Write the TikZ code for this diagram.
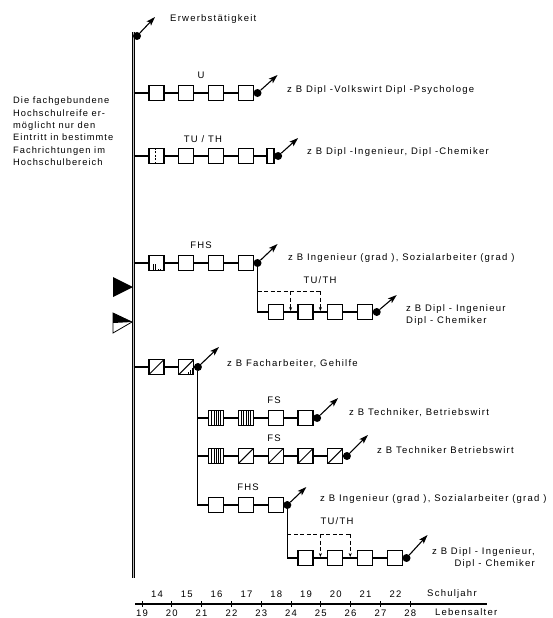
\documentclass[tikz,border=0pt]{standalone}
\usepackage{fontspec}
\setmainfont{Liberation Sans}[LetterSpace=13]
\usetikzlibrary{arrows.meta,calc}
\begin{document}
\begin{tikzpicture}[x=1pt,y=-1pt,
  font=\fontsize{9.5}{11}\selectfont,
  bx/.style={draw, line width=1.25pt, minimum width=15pt, minimum height=15pt, inner sep=0pt, fill=white},
  nbx/.style={bx, minimum width=7pt},
  dt/.style={circle, fill=black, inner sep=0pt, minimum size=8pt},
  ar/.style={line width=1.1pt, -{Stealth[length=9pt,width=6pt,inset=2pt]}},
  ln/.style={line width=1.1pt},
  dsh/.style={line width=1pt, dash pattern=on 4pt off 2.5pt},
  dar/.style={dsh, -{Stealth[length=4pt,width=3pt]}},
  txt/.style={anchor=west, inner sep=0pt, text height=6.5pt, text depth=2pt},
  lab/.style={inner sep=0pt, text height=6.5pt, text depth=0pt},
  slash/.style={path picture={\draw[line width=1pt] (path picture bounding box.south west) -- (path picture bounding box.north east);}},
  slashh/.style={path picture={\draw[line width=1pt] (path picture bounding box.south west) -- (path picture bounding box.north east);
      \foreach \d in {1.5,3.5,5.5}{\draw[line width=0.6pt] ([xshift=\d pt]path picture bounding box.south) -- ++(0,-\d-1);}}},
  vh/.style={path picture={\foreach \d in {-4.5,-2.25,0,2.25,4.5}{\draw[line width=0.7pt] ([xshift=\d pt]path picture bounding box.south) -- ([xshift=\d pt]path picture bounding box.north);}}},
  ph/.style={path picture={\foreach \d in {-3,-1}{\draw[line width=0.7pt] ([xshift=\d pt]path picture bounding box.south) -- ++(0,-7);}
      \foreach \d in {1.5,3.5}{\draw[line width=0.7pt] ([xshift=\d pt]path picture bounding box.south) -- ++(0,-2);}}},
  dv/.style={path picture={\draw[line width=0.7pt, dash pattern=on 2pt off 1.5pt] ([xshift=-1pt]path picture bounding box.south) -- ([xshift=-1pt]path picture bounding box.north);}}
]
\useasboundingbox (0,0) rectangle (552,618);

% main vertical line
\coordinate (mtop) at (133.5,32);
\coordinate (mbot) at (133.5,578);
\draw[line width=0.8pt, double=gray!50, double distance=1.4pt] (mtop) -- (mbot);

% Erwerbstaetigkeit
\node[dt] (e0) at (137,36) {};
\coordinate (e0t) at (155,17);
\draw[ar] (e0) -- (e0t);
\node[txt] (erw) at (170,19) {Erwerbstätigkeit};

% left text
\node[anchor=north west, inner sep=0pt, align=left, font=\fontsize{9.3}{12.3}\selectfont\addfontfeatures{LetterSpace=11}] (lt) at (13,97)
 {Die fachgebundene\\Hochschulreife er-\\möglicht nur den\\Eintritt in bestimmte\\Fachrichtungen im\\Hochschulbereich};

% triangles
\path[fill=black] (113,277) -- (133,287) -- (113,297) -- cycle;
\draw[line width=0.8pt, fill=white] (113,313) -- (132,322) -- (113,333) -- cycle;
\path[fill=black] (113,313) -- (132,322) -- (113,323) -- cycle;

% ---- U row
\coordinate (mU) at (133.5,93);
\node[bx] (u1) at (156.5,93) {};
\node[bx] (u2) at (186.3,93) {};
\node[bx] (u3) at (216.1,93) {};
\node[bx] (u4) at (245.9,93) {};
\draw[ln] (mU) -- (u1) -- (u2) -- (u3) -- (u4);
\node[dt] (ud) at ([xshift=3.5pt]u4.east) {};
\coordinate (udt) at ([shift={(20,-18)}]ud);
\draw[ar] (ud) -- (udt);
\node[lab] (lu) at (201,75) {U};
\node[txt] (tu) at (287,90) {z B Dipl -Volkswirt Dipl -Psychologe};

% ---- TU/TH row
\coordinate (mT) at (133.5,156);
\node[bx,dv] (t1) at (156.5,156) {};
\node[bx] (t2) at (186.3,156) {};
\node[bx] (t3) at (216.1,156) {};
\node[bx] (t4) at (245.9,156) {};
\node[nbx] (t5) at (270.5,156) {};
\draw[ln] (mT) -- (t1) -- (t2) -- (t3) -- (t4) -- (t5);
\node[dt] (td) at ([xshift=3.5pt]t5.east) {};
\coordinate (tdt) at ([shift={(20,-18)}]td);
\draw[ar] (td) -- (tdt);
\node[lab] (lt1) at (203,139) {TU / TH};
\node[txt] (tt) at (307,152) {z B Dipl -Ingenieur, Dipl -Chemiker};

% ---- FHS row
\coordinate (mF) at (133.5,263);
\node[bx,ph] (f1) at (156.5,263) {};
\node[bx] (f2) at (186.3,263) {};
\node[bx] (f3) at (216.1,263) {};
\node[bx] (f4) at (245.9,263) {};
\draw[ln] (mF) -- (f1) -- (f2) -- (f3) -- (f4);
\node[dt] (fd) at ([xshift=3.5pt]f4.east) {};
\coordinate (fdt) at ([shift={(20,-19)}]fd);
\draw[ar] (fd) -- (fdt);
\node[lab] (lf) at (201,245) {FHS};
\node[txt] (tf) at (288,258) {z B Ingenieur (grad ), Sozialarbeiter (grad )};

% ---- sub TU/TH row
\node[bx] (s1) at (275.7,312) {};
\node[bx] (s2) at (305.5,312) {};
\node[bx] (s3) at (335.3,312) {};
\node[bx] (s4) at (365.1,312) {};
\draw[ln] (fd) |- (s1);
\draw[ln] (s1) -- (s2) -- (s3) -- (s4);
\node[dt] (sd) at ([xshift=3.5pt]s4.east) {};
\coordinate (sdt) at ([shift={(20,-17)}]sd);
\draw[ar] (sd) -- (sdt);
\coordinate (j1) at (fd |- 0,291);
\coordinate (k1) at (290.6,291);
\coordinate (k2) at (320.4,291);
\coordinate (q1) at (290.6,311);
\coordinate (q2) at (320.4,311);
\draw[dsh] (j1) -- (k2);
\draw[dar] (k1) -- (q1);
\draw[dar] (k2) -- (q2);
\node[lab] (ls) at (320,280) {TU/TH};
\node[anchor=north west, inner sep=0pt, align=left, font=\fontsize{9.5}{12}\selectfont] (ts) at (406,304) {z B Dipl - Ingenieur\\Dipl - Chemiker};

% ---- Facharbeiter row
\coordinate (mA) at (133.5,367);
\node[bx,slash] (a1) at (156.5,367) {};
\node[bx,slashh] (a2) at (186.3,367) {};
\draw[ln] (mA) -- (a1) -- (a2);
\node[dt] (ad) at ([xshift=3.5pt]a2.east) {};
\coordinate (adt) at ([shift={(21,-20)}]ad);
\draw[ar] (ad) -- (adt);
\node[txt] (ta) at (227,364) {z B Facharbeiter, Gehilfe};

% ---- FS row 1
\node[bx,vh] (b1) at (216.1,418) {};
\node[bx,vh] (b2) at (245.9,418) {};
\node[bx] (b3) at (275.7,418) {};
\node[bx] (b4) at (305.5,418) {};
\draw[ln] (ad |- b1) -- (b1) -- (b2) -- (b3) -- (b4);
\node[dt] (bd) at ([xshift=3.5pt]b4.east) {};
\coordinate (bdt) at ([shift={(21,-20)}]bd);
\draw[ar] (bd) -- (bdt);
\node[lab] (lb) at (274,400) {FS};
\node[txt] (tb) at (349,413) {z B Techniker, Betriebswirt};

% ---- FS row 2
\node[bx,vh] (v1) at (216.1,456) {};
\node[bx,slash] (v2) at (245.9,456) {};
\node[bx,slash] (v3) at (275.7,456) {};
\node[bx,slash] (v4) at (305.5,456) {};
\node[bx,slash] (v5) at (335.3,456) {};
\draw[ln] (ad |- v1) -- (v1) -- (v2) -- (v3) -- (v4) -- (v5);
\node[dt] (vd) at ([xshift=3.5pt]v5.east) {};
\coordinate (vdt) at ([shift={(21,-21)}]vd);
\draw[ar] (vd) -- (vdt);
\node[lab] (lv) at (274,438) {FS};
\node[txt] (tv) at (377,451) {z B Techniker Betriebswirt};

% ---- FHS row 2
\node[bx] (g1) at (216.1,505) {};
\node[bx] (g2) at (245.9,505) {};
\node[bx] (g3) at (275.7,505) {};
\draw[ln] (ad) |- (g1);
\draw[ln] (g1) -- (g2) -- (g3);
\node[dt] (gd) at ([xshift=3.5pt]g3.east) {};
\coordinate (gdt) at ([shift={(19,-18)}]gd);
\draw[ar] (gd) -- (gdt);
\node[lab] (lg) at (248,487) {FHS};
\node[txt] (tg) at (320,499) {z B Ingenieur (grad ), Sozialarbeiter (grad )};

% ---- sub TU/TH row 2
\node[bx] (w1) at (305.5,558) {};
\node[bx] (w2) at (335.3,558) {};
\node[bx] (w3) at (365.1,558) {};
\node[bx] (w4) at (394.9,558) {};
\draw[ln] (gd) |- (w1);
\draw[ln] (w1) -- (w2) -- (w3) -- (w4);
\node[dt] (wd) at ([xshift=3.5pt]w4.east) {};
\coordinate (wdt) at ([shift={(21,-23)}]wd);
\draw[ar] (wd) -- (wdt);
\coordinate (j2) at (gd |- 0,534);
\coordinate (k3) at (320.4,534);
\coordinate (k4) at (350.2,534);
\coordinate (q3) at (320.4,557);
\coordinate (q4) at (350.2,557);
\draw[dsh] (j2) -- (k4);
\draw[dar] (k3) -- (q3);
\draw[dar] (k4) -- (q4);
\node[lab] (lw) at (337,521) {TU/TH};
\node[anchor=north east, inner sep=0pt, align=right, font=\fontsize{9.5}{12}\selectfont] (tw) at (535,547) {z B Dipl - Ingenieur,\\Dipl - Chemiker};

% ---- axis
\draw[line width=1.1pt] (135,604) -- (487,604);
\foreach \k in {0,...,9} {
  \draw[line width=0.8pt] ({142+29.8*\k},601) -- ({142+29.8*\k},607);
  \pgfmathtruncatemacro\age{19+\k}
  \node[lab] at ({142+29.8*\k},613) {\age};
}
\foreach \k in {0,...,8} {
  \pgfmathtruncatemacro\sj{14+\k}
  \node[lab] at ({157+29.8*\k},594) {\sj};
}
\node[txt] (sj) at (427,594) {Schuljahr};
\node[txt] (la) at (435,613) {Lebensalter};
\end{tikzpicture}
\end{document}
